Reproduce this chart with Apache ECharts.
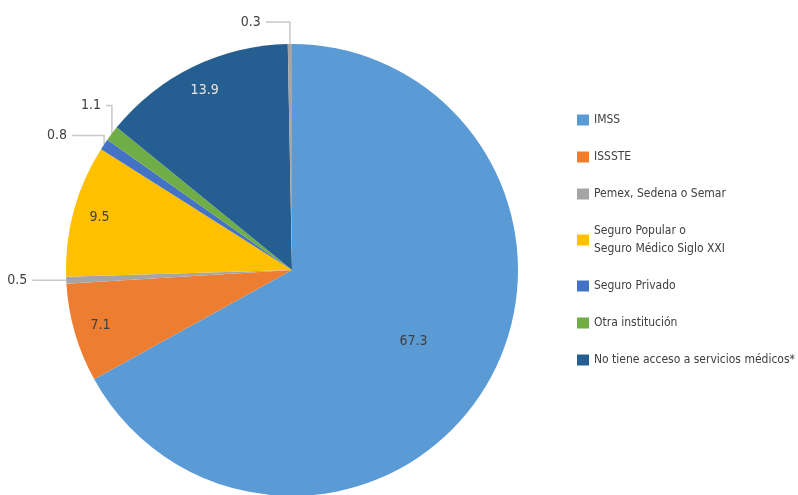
<!DOCTYPE html>
<html>
<head>
<meta charset="utf-8">
<script src="https://cdn.jsdelivr.net/npm/echarts@6/dist/echarts.min.js"></script>
<style>html,body{margin:0;padding:0;background:#fff;}#c{width:798px;height:495px;}</style>
</head>
<body>
<div id="c"></div>
<script>
const categories = ['IMSS', 'ISSSTE', 'Pemex, Sedena o Semar', 'Seguro Popular o\nSeguro Médico Siglo XXI', 'Seguro Privado', 'Otra institución', 'No tiene acceso a servicios médicos*', 'No especificado'];
const values = [67.3, 7.1, 0.5, 9.5, 0.8, 1.1, 13.9, 0.3];
const legendNames = categories.slice(0, 7);
const colors = ['#5B9BD5', '#ED7D31', '#A5A5A5', '#FFC000', '#4472C4', '#70AD47', '#255E91', '#A5A5A5'];

const font = "'Liberation Sans Narrow','DejaVu Sans Condensed','Arial Narrow',sans-serif";
const outsideIdx = [2, 4, 5, 7];
const farIdx = [1, 3, 6];
const midIdx = [0];
// leader line shape: [rise (up), run (left)]
const lineShape = {2: [0, 34], 4: [9, 32], 5: [28, 6], 7: [22, 24]};
const insideColor = {0: '#404040', 1: '#404040', 3: '#404040', 6: '#E6E6E6'};

const C = [292, 270];
const R = 226;

function mainData() {
  return categories.map((n, i) => {
    const out = outsideIdx.includes(i);
    return {
      name: n, value: values[i],
      itemStyle: {color: colors[i]},
      label: out ? {show: true, position: 'outside', formatter: '{c}', color: '#404040', fontSize: 14, fontFamily: font} : {show: false},
      labelLine: out ? {show: true, length: 10, length2: 10, smooth: false, lineStyle: {color: '#C8C8C8', width: 1.5}} : {show: false}
    };
  });
}
function overlayData(idxs) {
  return categories.map((n, i) => ({
    name: n, value: values[i],
    itemStyle: {color: 'rgba(0,0,0,0)'},
    label: idxs.includes(i) ? {show: true, position: 'inside', formatter: '{c}', color: insideColor[i], fontSize: 14, fontFamily: font} : {show: false}
  }));
}

const chart = echarts.init(document.getElementById('c'), null, {renderer: 'canvas'});
chart.setOption({
  animation: false,
  legend: {
    data: legendNames,
    orient: 'vertical',
    left: 572, top: 106,
    icon: 'rect', itemWidth: 12, itemHeight: 11, itemGap: 19,
    textStyle: {fontSize: 12, color: '#404040', fontFamily: font, lineHeight: 18}
  },
  series: [
    {type: 'pie', center: C, radius: [0, R], startAngle: 90, clockwise: true, avoidLabelOverlap: false,
     emphasis: {disabled: true}, data: mainData(),
     labelLayout: function (p) {
       const s = lineShape[p.dataIndex];
       if (!s || !p.labelLinePoints) return {};
       const p0 = p.labelLinePoints[0];
       const y1 = p0[1] - s[0];
       const x2 = p0[0] - s[1];
       return {x: x2 - 5, y: y1, align: 'right', verticalAlign: 'middle',
               labelLinePoints: [p0, [p0[0], y1], [x2, y1]]};
     }},
    {type: 'pie', center: C, radius: [Math.round(R * 0.74), R], startAngle: 90, clockwise: true, avoidLabelOverlap: false,
     silent: true, emphasis: {disabled: true}, labelLine: {show: false}, data: overlayData(farIdx)},
    {type: 'pie', center: C, radius: [Math.round(R * 0.22), R], startAngle: 90, clockwise: true, avoidLabelOverlap: false,
     silent: true, emphasis: {disabled: true}, labelLine: {show: false}, data: overlayData(midIdx)}
  ]
});
</script>
</body>
</html>
